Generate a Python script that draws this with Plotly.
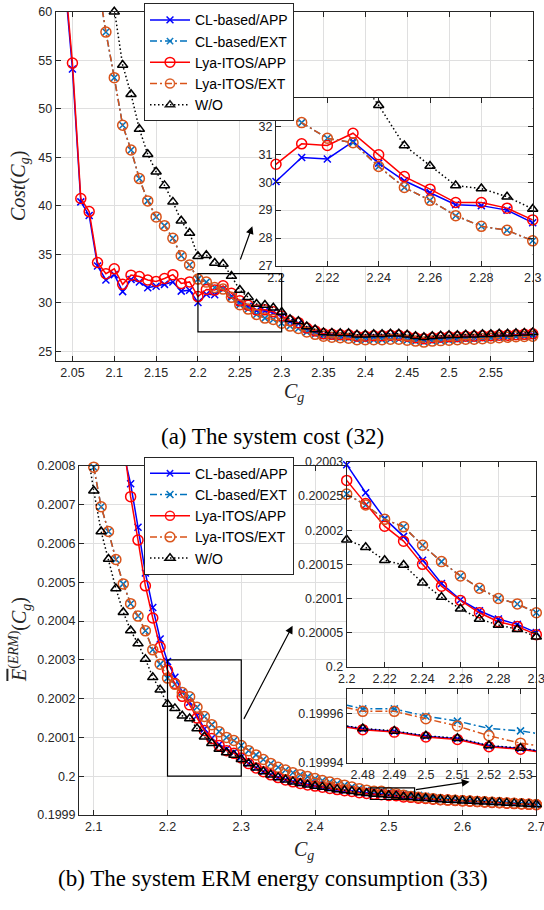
import plotly.graph_objects as go

# ---------------- data: (a) system cost ----------------
cg_a = [2.04, 2.05, 2.06, 2.07, 2.08, 2.09, 2.10, 2.11, 2.12, 2.13, 2.14, 2.15, 2.16, 2.17,
        2.18, 2.19, 2.20, 2.21, 2.22, 2.23, 2.24, 2.25, 2.26, 2.27, 2.28, 2.29, 2.30, 2.31,
        2.32, 2.33, 2.34, 2.35, 2.36, 2.37, 2.38, 2.39, 2.40, 2.41, 2.42, 2.43, 2.44, 2.45,
        2.46, 2.47, 2.48, 2.49, 2.50, 2.51, 2.52, 2.53, 2.54, 2.55, 2.56, 2.57, 2.58, 2.59, 2.60]

cost_cl_app = [64.0, 54.1, 40.4, 39.0, 33.8, 32.35, 32.9, 31.15, 32.4, 32.15, 31.55, 31.7, 31.9,
               32.15, 31.2, 31.3, 30.02, 30.88, 30.83, 31.45, 30.68, 30.05, 29.63, 29.19, 29.16,
               29.0, 28.55,
               28.05, 27.85, 27.3, 27.0, 26.72, 26.67, 26.62, 26.62, 26.47, 26.47, 26.52, 26.52,
               26.57, 26.57, 26.47, 26.32, 26.22, 26.32, 26.37, 26.42, 26.42, 26.47, 26.47, 26.52,
               26.52, 26.57, 26.57, 26.62, 26.67, 26.72]
cost_cl_ext = [None, None, None, None, 63.2, 57.9, 53.2, 48.3, 45.75, 42.8, 40.5, 38.85, 37.95,
               36.65, 34.85, 33.9, 32.44, 32.13, 31.57, 31.41, 30.56, 29.81, 29.35, 28.8, 28.42,
               28.28, 27.9,
               27.6, 27.35, 27.0, 26.75, 26.55, 26.45, 26.4, 26.35, 26.2, 26.2, 26.2, 26.2, 26.25,
               26.25, 26.15, 26.05, 25.95, 26.05, 26.1, 26.15, 26.2, 26.25, 26.25, 26.3, 26.35,
               26.4, 26.45, 26.5, 26.52, 26.55]
cost_lya_app = [64.5, 54.7, 40.75, 39.4, 34.15, 33.0, 33.5, 31.9, 32.85, 32.7, 32.35, 32.2, 32.5,
                32.9, 32.0, 32.15, 30.64, 31.37, 31.31, 31.75, 30.98, 30.2, 29.75, 29.27, 29.27,
                29.07, 28.65,
                28.15, 27.95, 27.4, 27.1, 26.8, 26.75, 26.7, 26.7, 26.55, 26.55, 26.6, 26.6, 26.65,
                26.65, 26.55, 26.4, 26.3, 26.4, 26.45, 26.5, 26.5, 26.55, 26.55, 26.6, 26.6, 26.65,
                26.65, 26.7, 26.75, 26.8]
cost_lya_ext = [None, None, None, None, 63.2, 57.9, 53.2, 48.3, 45.75, 42.8, 40.5, 38.85, 37.95,
                36.65, 34.85, 33.9, 32.44, 32.13, 31.57, 31.41, 30.56, 29.81, 29.35, 28.8, 28.42,
                28.28, 27.9,
                27.6, 27.35, 27.0, 26.75, 26.55, 26.45, 26.4, 26.35, 26.2, 26.2, 26.2, 26.2, 26.25,
                26.25, 26.15, 26.05, 25.95, 26.05, 26.1, 26.15, 26.2, 26.25, 26.25, 26.3, 26.35,
                26.4, 26.45, 26.5, 26.52, 26.55]
cost_wo = [None, None, None, None, None, 66.0, 60.0, 54.5, 51.5, 47.9, 45.3, 43.5, 42.1, 40.4,
           38.45, 37.2, 34.8, 34.9, 34.1, 34.0, 32.75, 31.31, 30.58, 29.88, 29.77, 29.48, 29.04,
           28.3, 28.1, 27.55, 27.25, 26.95, 26.9, 26.85, 26.85, 26.7, 26.7, 26.75, 26.75, 26.8,
           26.8, 26.7, 26.55, 26.45, 26.55, 26.6, 26.65, 26.65, 26.7, 26.7, 26.75, 26.75, 26.8,
           26.8, 26.85, 26.9, 26.95]

# ---------------- data: (b) ERM energy consumption ----------------
cg_b = [2.09, 2.10, 2.11, 2.12, 2.13, 2.14, 2.15, 2.16, 2.17, 2.18, 2.19, 2.20, 2.21, 2.22,
        2.23, 2.24, 2.25, 2.26, 2.27, 2.28, 2.29, 2.30, 2.31, 2.32, 2.33, 2.34, 2.35, 2.36,
        2.37, 2.38, 2.39, 2.40, 2.41, 2.42, 2.43, 2.44, 2.45, 2.46, 2.47, 2.48, 2.49, 2.50,
        2.51, 2.52, 2.53, 2.54, 2.55, 2.56, 2.57, 2.58, 2.59, 2.60, 2.61, 2.62, 2.63, 2.64,
        2.65, 2.66, 2.67, 2.68, 2.69, 2.70]

erm_cl_app = [None, None, None, None, None,
              0.200837, 0.200754, 0.200642, 0.200524, 0.200435, 0.200354, 0.200296, 0.200255,
              0.200217, 0.200191, 0.200156, 0.200122, 0.200098, 0.200082, 0.20007, 0.200062,
              0.20005,
              0.2000328, 0.2000218, 0.2000118, 0.2000038, 0.1999968, 0.1999908, 0.1999858,
              0.1999818, 0.1999778, 0.1999748, 0.1999718, 0.1999688, 0.1999658, 0.1999628,
              0.1999608, 0.1999578, 0.1999558, 0.1999538, 0.1999528, 0.1999508, 0.1999498,
              0.1999468, 0.1999458, 0.1999438, 0.1999428, 0.1999408, 0.1999398, 0.1999388,
              0.1999378, 0.1999368, 0.1999358, 0.1999348, 0.1999338, 0.1999328, 0.1999318,
              0.1999308, 0.1999298, 0.1999288, 0.1999278, 0.1999268]
erm_cl_ext = [None,
              0.200797, 0.200695, 0.200631, 0.200559, 0.200496, 0.200445, 0.200413, 0.200375,
              0.200326, 0.200289, 0.200253, 0.200237, 0.200216, 0.200205, 0.200178, 0.200154,
              0.200133, 0.200115, 0.2001, 0.200092, 0.200079,
              0.200066, 0.200055, 0.200043, 0.200033, 0.200023, 0.200016, 0.200009, 0.200004,
              0.199999, 0.199994, 0.199989, 0.199985, 0.199981, 0.199977, 0.199973, 0.199969,
              0.199965, 0.199962, 0.199962, 0.199959, 0.199957, 0.199954, 0.199953, 0.199951,
              0.199948, 0.199945, 0.199942, 0.19994, 0.199938, 0.199937, 0.199936, 0.199935,
              0.199934, 0.199933, 0.199932, 0.199931, 0.19993, 0.199929, 0.199928, 0.199927]
erm_lya_app = [None, None, None, None, None,
               0.200863, 0.200721, 0.200609, 0.200491, 0.200408, 0.200333, 0.200273, 0.200239,
               0.200206, 0.200184, 0.20015, 0.200118, 0.200097, 0.200079, 0.200066, 0.200059,
               0.200047,
               0.2000325, 0.2000215, 0.2000115, 0.2000035, 0.1999965, 0.1999905, 0.1999855,
               0.1999815, 0.1999775, 0.1999745, 0.1999715, 0.1999685, 0.1999655, 0.1999625,
               0.1999605, 0.1999575, 0.1999555, 0.1999535, 0.1999525, 0.1999505, 0.1999495,
               0.1999465, 0.1999455, 0.1999435, 0.1999425, 0.1999405, 0.1999395, 0.1999385,
               0.1999375, 0.1999365, 0.1999355, 0.1999345, 0.1999335, 0.1999325, 0.1999315,
               0.1999305, 0.1999295, 0.1999285, 0.1999275, 0.1999265]
erm_lya_ext = [None,
               0.200797, 0.200695, 0.200631, 0.200559, 0.200496, 0.200445, 0.200413, 0.200375,
               0.200326, 0.200289, 0.200253, 0.200237, 0.200216, 0.200205, 0.200178, 0.200154,
               0.200133, 0.200115, 0.2001, 0.200092, 0.200079,
               0.200066, 0.200055, 0.200043, 0.200033, 0.200023, 0.200016, 0.200009, 0.200004,
               0.199999, 0.199994, 0.199989, 0.199985, 0.199981, 0.199977, 0.199972, 0.199968,
               0.199964, 0.199961, 0.199961, 0.199958, 0.199955, 0.199951, 0.199948, 0.199946,
               0.199944, 0.199942, 0.19994, 0.199939, 0.199938, 0.199937, 0.199936, 0.199935,
               0.199934, 0.199933, 0.199932, 0.199931, 0.19993, 0.199929, 0.199928, 0.199927]
erm_wo = [0.200854, 0.200736, 0.200631, 0.20056, 0.200484, 0.200423, 0.200376, 0.200342,
          0.200302, 0.200255, 0.200223, 0.200186, 0.200175, 0.200156, 0.200149, 0.200123,
          0.200102, 0.200085, 0.20007, 0.200061, 0.200055, 0.200044,
          0.200033, 0.200022, 0.200012, 0.200004, 0.199997, 0.199991, 0.199986, 0.199982,
          0.199978, 0.199975, 0.199972, 0.199969, 0.199966, 0.199963, 0.199961, 0.199958,
          0.199956, 0.199954, 0.199953, 0.199951, 0.19995, 0.199947, 0.199946, 0.199944,
          0.199943, 0.199941, 0.19994, 0.199939, 0.199938, 0.199937, 0.199936, 0.199935,
          0.199934, 0.199933, 0.199932, 0.199931, 0.19993, 0.199929, 0.199928, 0.199927]

series_names = ["CL-based/APP", "CL-based/EXT", "Lya-ITOS/APP", "Lya-ITOS/EXT", "W/O"]

# ---------------- ticks ----------------
a_xticks = [2.05, 2.1, 2.15, 2.2, 2.25, 2.3, 2.35, 2.4, 2.45, 2.5, 2.55]
a_xlabels = ["2.05", "2.1", "2.15", "2.2", "2.25", "2.3", "2.35", "2.4", "2.45", "2.5", "2.55"]
a_yticks = [25, 30, 35, 40, 45, 50, 55, 60]
a_in_xticks = [2.2, 2.22, 2.24, 2.26, 2.28, 2.3]
a_in_xlabels = ["2.2", "2.22", "2.24", "2.26", "2.28", "2.3"]
a_in_yticks = [27, 28, 29, 30, 31, 32, 33]
b_xticks = [2.1, 2.2, 2.3, 2.4, 2.5, 2.6, 2.7]
b_xlabels = ["2.1", "2.2", "2.3", "2.4", "2.5", "2.6", "2.7"]
b_yticks = [0.1999, 0.2, 0.2001, 0.2002, 0.2003, 0.2004, 0.2005, 0.2006, 0.2007, 0.2008]
b_ylabels = ["0.1999", "0.2", "0.2001", "0.2002", "0.2003", "0.2004", "0.2005", "0.2006",
             "0.2007", "0.2008"]
b_in1_yticks = [0.2, 0.20005, 0.2001, 0.20015, 0.2002, 0.20025, 0.2003]
b_in1_ylabels = ["0.2", "0.20005", "0.2001", "0.20015", "0.2002", "0.20025", "0.2003"]
b_in2_xticks = [2.48, 2.49, 2.5, 2.51, 2.52, 2.53]
b_in2_xlabels = ["2.48", "2.49", "2.5", "2.51", "2.52", "2.53"]
b_in2_yticks = [0.19994, 0.19996]
b_in2_ylabels = ["0.19994", "0.19996"]

# ---------------- styles ----------------
STY = [
    dict(color="#0000FF", dash="solid", symbol="x-thin-open", size=7),
    dict(color="#0072BD", dash="7px,3px,2px,3px", symbol="x-thin-open", size=7),
    dict(color="#FF0000", dash="solid", symbol="circle-open", size=10),
    dict(color="#D95319", dash="7px,3px,2px,3px", symbol="circle-open", size=10),
    dict(color="#000000", dash="1.5px,2.5px", symbol="triangle-up-open", size=9),
]

W, H = 544, 910
fx = lambda p: p / W
fy = lambda p: 1 - p / H

fig = go.Figure()


def add_group(xs, ys_list, xa, ya, xr, yr, legend=None):
    ex = 1e-9 + (xr[1] - xr[0]) * 1e-3
    ey = (yr[1] - yr[0]) * 2e-3
    for name, ys, st in zip(series_names, ys_list, STY):
        px, py = [], []
        for x, y in zip(xs, ys):
            if legend is None and (x < xr[0] - 0.0105 or x > xr[1] + 0.0105):
                continue
            px.append(x)
            py.append(y)
        vis = [(y is not None and xr[0] - ex <= x <= xr[1] + ex and yr[0] - ey <= y <= yr[1] + ey)
               for x, y in zip(px, py)]
        fig.add_trace(go.Scatter(
            x=px, y=py, xaxis=xa, yaxis=ya, mode="lines+markers", name=name,
            line=dict(color=st["color"], width=1.5, dash=st["dash"]),
            marker=dict(symbol=st["symbol"], size=[st["size"] if v else 0 for v in vis],
                        opacity=[1 if v else 0 for v in vis], color=st["color"],
                        line=dict(color=st["color"], width=1.5)),
            cliponaxis=False, showlegend=legend is not None, legend=legend or "legend",
            hoverinfo="skip"))


A_X, A_Y = [2.03, 2.6], [24, 60]
A_IX, A_IY = [2.2, 2.3], [27, 33]
B_X, B_Y = [2.08, 2.7], [0.1999, 0.2008]
B_I1X, B_I1Y = [2.2, 2.3], [0.2, 0.2003]
B_I2X, B_I2Y = [2.475, 2.535], [0.19994, 0.19997]

ys_a = [cost_cl_app, cost_cl_ext, cost_lya_app, cost_lya_ext, cost_wo]
ys_b = [erm_cl_app, erm_cl_ext, erm_lya_app, erm_lya_ext, erm_wo]

add_group(cg_a, ys_a, "x", "y", A_X, A_Y, legend="legend")
add_group(cg_a, ys_a, "x2", "y2", A_IX, A_IY)
add_group(cg_b, ys_b, "x3", "y3", B_X, B_Y, legend="legend2")
add_group(cg_b, ys_b, "x4", "y4", B_I1X, B_I1Y)
add_group(cg_b, ys_b, "x5", "y5", B_I2X, B_I2Y)

TICKFONT = dict(family="Liberation Sans, Arial, sans-serif", size=12.5, color="#262626")


def axis(domain, rng, tv, tt, anchor):
    pad = (rng[1] - rng[0]) * 1e-6
    d = dict(domain=domain, range=[rng[0] - pad, rng[1] + pad], tickvals=tv, anchor=anchor,
             showline=True, linecolor="#262626", linewidth=1, mirror="ticks", ticks="inside",
             ticklen=5, tickcolor="#262626", tickwidth=1, showgrid=True, gridcolor="#dfdfdf",
             gridwidth=1, zeroline=False, tickfont=TICKFONT, fixedrange=True, automargin=False,
             ticklabeloverflow="allow")
    if tt is not None:
        d["ticktext"] = tt
    return d


fig.update_layout(
    template="none",
    width=W, height=H, margin=dict(l=0, r=0, t=0, b=0, autoexpand=False),
    paper_bgcolor="#ffffff", plot_bgcolor="#fffffe",
    font=dict(family="Liberation Sans, Arial, sans-serif", color="#262626"),
    xaxis=axis([fx(55.7), fx(532.7)], A_X, a_xticks, a_xlabels, "y"),
    yaxis=axis([fy(361), fy(11.7)], A_Y, a_yticks, None, "x"),
    xaxis2=axis([fx(276), fx(532.7)], A_IX, a_in_xticks, a_in_xlabels, "y2"),
    yaxis2=axis([fy(266), fy(98.3)], A_IY, a_in_yticks, None, "x2"),
    xaxis3=axis([fx(79), fx(536.3)], B_X, b_xticks, b_xlabels, "y3"),
    yaxis3=axis([fy(815), fy(466)], B_Y, b_yticks, b_ylabels, "x3"),
    xaxis4=axis([fx(346.7), fx(536.3)], B_I1X, a_in_xticks, a_in_xlabels, "y4"),
    yaxis4=axis([fy(666.7), fy(462)], B_I1Y, b_in1_yticks, b_in1_ylabels, "x4"),
    xaxis5=axis([fx(347), fx(536.3)], B_I2X, b_in2_xticks, b_in2_xlabels, "y5"),
    yaxis5=axis([fy(762.7), fy(689.3)], B_I2Y, b_in2_yticks, b_in2_ylabels, "x5"),
    legend=dict(x=fx(144), y=fy(3.3), xanchor="left", yanchor="top", bgcolor="white",
                bordercolor="#262626", borderwidth=1, itemwidth=40, tracegroupgap=0,
                font=dict(family="Liberation Sans, Arial, sans-serif", size=14, color="black")),
    legend2=dict(x=fx(144), y=fy(456.7), xanchor="left", yanchor="top", bgcolor="white",
                 bordercolor="#262626", borderwidth=1, itemwidth=40, tracegroupgap=0,
                 font=dict(family="Liberation Sans, Arial, sans-serif", size=14, color="black")),
)

# zoom boxes
for xr_, yr_, xa, ya in [(A_IX, A_IY, "x", "y"), (B_I1X, B_I1Y, "x3", "y3"),
                         (B_I2X, B_I2Y, "x3", "y3")]:
    fig.add_shape(type="rect", xref=xa, yref=ya, x0=xr_[0], x1=xr_[1], y0=yr_[0], y1=yr_[1],
                  line=dict(color="black", width=1.2), fillcolor="rgba(0,0,0,0)")

# arrows
for (hx, hy, tx, ty, xa, ya) in [(2.265, 37.9, 2.25, 34.3, "x", "y"),
                                 (2.3696, 0.200388, 2.3025, 0.200144, "x3", "y3"),
                                 (2.6095, 0.199986, 2.5348, 0.199965, "x3", "y3")]:
    fig.add_annotation(x=hx, y=hy, ax=tx, ay=ty, xref=xa, yref=ya, axref=xa, ayref=ya,
                       text="", showarrow=True, arrowhead=2, arrowsize=1.3, arrowwidth=1.2,
                       arrowcolor="black", standoff=0, startstandoff=0)

SERIF = "Liberation Serif, Times New Roman, serif"


def label(px, py, text, size, color="#262626", angle=0):
    fig.add_annotation(x=fx(px), y=fy(py), xref="paper", yref="paper", text=text,
                       showarrow=False, textangle=angle, xanchor="center", yanchor="middle",
                       font=dict(family=SERIF, size=size, color=color))


# axis titles
label(20, 186, "<i>Cost</i>(<i>C</i><sub><i>g</i></sub>)", 20, angle=-90)
label(294, 392, "<i>C</i><sub><i>g</i></sub>", 20)
label(20, 640, '<span style="text-decoration:overline"><i>E</i></span><sup>(<i>ERM</i>)</sup>'
               '(<i>C</i><sub><i>g</i></sub>)', 20, angle=-90)
label(304, 850, "<i>C</i><sub><i>g</i></sub>", 20)
# captions
label(272, 436, "(a) The system cost (32)", 23, color="black")
label(273, 878, "(b) The system ERM energy consumption (33)", 23, color="black")

# remove the default page margin so the figure sits at the window's top-left corner
fig.write_html("out.html", config={"displayModeBar": False},
               post_script="document.body.style.margin='0';document.body.style.overflow='hidden';")
